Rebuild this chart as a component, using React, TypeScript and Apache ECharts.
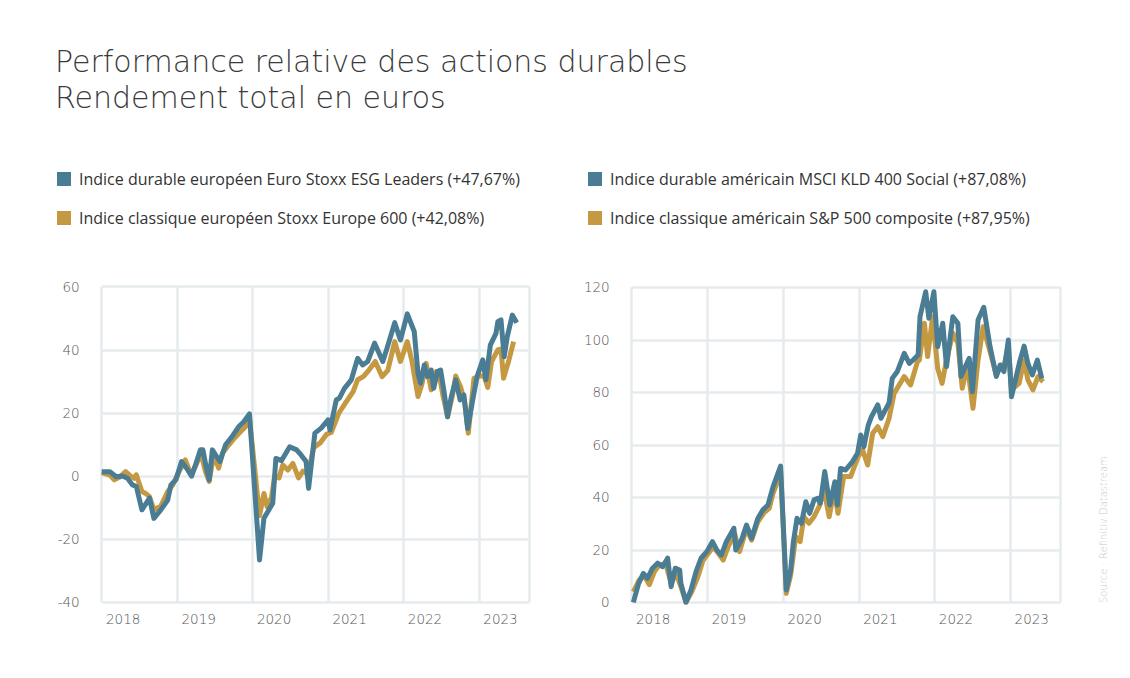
import React, { useEffect, useRef } from "react";
import * as echarts from "echarts";

// x values: months since January 2018
const years = ["2018", "2019", "2020", "2021", "2022", "2023"];

const euroEsgX = [0, 1.3, 2.3, 3.3, 4.1, 4.9, 5.5, 6.4, 7.6, 8.3, 9.4, 10.5, 11, 11.8, 12.7, 13.5, 14.3, 15, 15.7, 16.1, 16.6, 17.1, 17.6, 18.1, 18.8, 19.7, 20.8, 21.8, 22.6, 23.5, 25.1, 25.8, 27.2, 27.7, 28.6, 29.9, 31, 31.7, 32.5, 32.9, 33.9, 34.9, 36, 36.3, 37.3, 37.8, 38.6, 39.7, 40.7, 41.5, 42.3, 43.4, 44.7, 45.3, 46.6, 47.5, 48.6, 49.7, 50.3, 50.7, 51.3, 51.8, 52.4, 52.8, 53.4, 53.9, 54.4, 55.0, 55.6, 56.3, 57.0, 57.6, 58.2, 59.0, 59.7, 60.6, 61.1, 61.8, 62.7, 63, 63.5, 64, 64.5, 65.3, 66.0];
const euroEsgY = [1.4, 1.4, -0.2, 0.0, -0.7, -2.8, -3.3, -10.7, -7.0, -13.4, -10.7, -7.6, -2.8, -1.2, 4.6, 2.5, 0.0, 4.0, 8.3, 8.3, 3.0, -1.2, 8.3, 6.7, 4.6, 9.9, 12.7, 15.7, 17.2, 19.7, -26.6, -13.4, -8.6, 5.6, 4.9, 9.3, 8.3, 6.7, 4.6, -3.9, 13.6, 15.2, 17.8, 14.6, 24.1, 24.7, 27.8, 30.5, 37.3, 35.2, 36.3, 42.1, 36.3, 40.0, 48.6, 43.1, 51.4, 45.8, 32.6, 29.4, 35.2, 31.5, 33.6, 27.8, 33.1, 33.6, 27.3, 18.8, 25.2, 30.5, 24.1, 25.7, 15.1, 24.1, 31.5, 36.8, 30.5, 41.5, 45.2, 48.9, 49.5, 37.8, 44.2, 51.0, 48.6];

const euroStoxxX = [0, 1.3, 2.0, 2.8, 3.8, 4.6, 5.2, 5.5, 6.4, 7.0, 7.6, 8.3, 9.4, 10.5, 11.3, 12.3, 13.3, 14.2, 15.0, 15.8, 16.5, 17.1, 17.8, 18.6, 19.2, 20.0, 21.1, 22.1, 22.9, 23.5, 25.1, 25.8, 26.3, 27.0, 27.5, 28.2, 28.8, 29.6, 30.4, 31.3, 32.0, 32.8, 33.7, 34.8, 35.8, 36.5, 37.7, 38.9, 40.0, 40.7, 41.6, 42.5, 43.5, 44.6, 45.5, 46.6, 47.5, 48.6, 49.3, 50.3, 50.9, 51.6, 52.4, 53.2, 53.7, 54.2, 55.0, 55.8, 56.3, 57.1, 57.7, 58.3, 59.2, 60.1, 60.8, 61.4, 62.0, 63.0, 63.5, 63.9, 64.7, 65.5];
const euroStoxxY = [1.1, 0.3, -1.2, -0.4, 1.4, 0.0, -0.7, 0.4, -4.9, -5.5, -6.5, -10.7, -9.5, -4.9, -2.8, 1.4, 5.1, 0.4, 3.5, 7.2, 1.4, -1.7, 6.7, 2.5, 7.2, 9.3, 12.0, 14.1, 15.7, 18.3, -12.5, -5.5, -9.7, -6.8, 0.0, -0.6, 3.5, 1.9, 4.0, -0.6, 1.6, 0.5, 9.0, 10.6, 13.3, 13.8, 19.9, 23.6, 26.8, 30.5, 31.5, 33.6, 36.3, 31.5, 33.5, 42.6, 36.3, 42.6, 36.8, 25.2, 28.9, 35.7, 27.3, 33.1, 32.0, 26.2, 18.8, 25.7, 31.7, 28.1, 23.6, 13.6, 31.0, 31.7, 31.7, 28.1, 36.3, 40.0, 40.2, 31.0, 36.3, 42.6];

const usKldX = [0.26, 1.1, 1.85, 2.5, 3.3, 4.1, 4.9, 5.7, 6.25, 6.9, 7.6, 7.8, 8.6, 9.4, 10.2, 11.0, 11.9, 12.8, 13.5, 14.2, 15.0, 16.2, 16.5, 17.4, 18.2, 19.0, 20.0, 20.8, 21.6, 22.4, 23.6, 24.5, 25.2, 25.6, 26.2, 26.9, 27.6, 28.2, 28.9, 29.5, 29.9, 30.6, 31.4, 32.2, 32.6, 33.1, 33.9, 35.0, 35.8, 36.3, 36.8, 37.5, 38.0, 39.0, 39.5, 40.8, 41.3, 42.1, 43.2, 44.0, 44.6, 45.4, 45.7, 46.6, 47.1, 47.9, 48.5, 49.3, 49.9, 50.9, 51.7, 52.2, 53.0, 53.5, 54.0, 54.9, 55.8, 56.8, 57.8, 58.4, 59.0, 59.7, 60.2, 61.5, 62.2, 62.8, 63.5, 64.3, 65.0];
const usKldY = [0, 7.2, 11.0, 9.1, 13.0, 14.9, 13.6, 16.8, 5.9, 13.0, 12.3, 7.2, 0, 4.7, 11.7, 16.8, 19.3, 23.1, 19.9, 18.0, 23.1, 28.2, 19.9, 23.7, 29.4, 24.4, 32.0, 35.2, 37.1, 44.0, 51.9, 4.7, 12.3, 22.5, 32.0, 30.1, 38.3, 33.9, 39.0, 39.6, 37.7, 49.8, 37.1, 45.9, 37.1, 51.0, 50.4, 53.6, 56.8, 63.7, 59.3, 67.5, 70.7, 75.2, 70.1, 76.0, 85.3, 87.9, 94.8, 91.0, 92.3, 94.2, 108.8, 118.3, 108.2, 118.3, 97.4, 106.3, 89.8, 108.8, 106.3, 86.0, 90.4, 92.9, 80.2, 107.5, 112.4, 97.4, 86.0, 90.4, 87.9, 99.9, 78.3, 91.7, 97.6, 91.0, 86.6, 92.3, 85.3];

const usSpX = [0.26, 1.2, 2.0, 2.8, 3.6, 4.4, 5.4, 6.25, 7.0, 7.8, 8.6, 9.5, 10.5, 11.3, 12.1, 12.9, 13.7, 14.5, 15.3, 16.3, 17.1, 18.2, 19.0, 20.0, 21.0, 21.8, 22.4, 22.8, 23.6, 24.5, 25.2, 26.0, 26.7, 27.3, 28.1, 28.9, 29.7, 30.5, 31.3, 32.1, 32.7, 33.6, 34.7, 35.9, 36.6, 37.4, 38.2, 39.0, 39.8, 40.8, 41.6, 43.2, 44.2, 45.3, 45.6, 46.4, 46.9, 47.7, 48.5, 49.2, 49.9, 50.9, 51.7, 52.4, 53.0, 53.5, 54.1, 54.9, 55.7, 56.8, 57.8, 58.4, 59.1, 59.7, 60.2, 61.4, 62.2, 62.8, 63.6, 64.4, 65.2];
const usSpY = [4.0, 8.5, 10.0, 6.7, 11.7, 14.2, 14.6, 7.2, 11.3, 5.9, 0, 3.9, 9.8, 15.9, 18.5, 21.1, 18.8, 16.1, 21.2, 26.3, 19.3, 28.1, 23.7, 30.7, 34.2, 35.8, 41.5, 44.0, 50.4, 3.4, 10.4, 25.0, 23.1, 32.6, 30.1, 32.6, 36.4, 42.8, 32.6, 42.8, 33.9, 47.9, 47.9, 55.5, 58.0, 52.3, 64.4, 66.9, 63.1, 70.1, 79.6, 86.0, 82.8, 91.7, 92.3, 106.3, 93.6, 108.8, 89.1, 83.4, 92.3, 102.5, 98.7, 81.5, 88.5, 84.7, 73.9, 92.3, 105.0, 95.5, 86.6, 89.5, 91.0, 97.4, 80.9, 83.4, 92.3, 84.7, 80.9, 86.0, 84.0];

const seriesNames = [
  "Indice durable européen Euro Stoxx ESG Leaders (+47,67%)",
  "Indice classique européen Stoxx Europe 600 (+42,08%)",
  "Indice durable américain MSCI KLD 400 Social (+87,08%)",
  "Indice classique américain S&P 500 composite (+87,95%)",
];

const titleLines = ["Performance relative des actions durables", "Rendement total en euros"];
const sourceText = "Source : Refinitiv Datastream";

const BLUE = "#4a7d94";
const GOLD = "#c59842";
const GRID = "#e6ebee";
const LABEL = "#555555";
const TICK_FONT = "DejaVu Sans";

const zip = (xs: number[], ys: number[]) => xs.map((x, i) => [x, ys[i]]);

export default function App() {
  const ref = useRef<HTMLDivElement>(null);
  useEffect(() => {
    if (!ref.current) return;
    const chart = echarts.init(ref.current, null, { renderer: "svg" });
    const xAxisCommon = (gridIndex: number) => ({
      type: "value",
      gridIndex,
      min: 0,
      max: 68,
      interval: 12,
      axisLine: { show: false },
      axisTick: { show: false },
      splitLine: { show: true, lineStyle: { color: GRID, width: 2.5 } },
      axisLabel: {
        formatter: (v: number) => (v % 12 === 0 ? years[v / 12] ?? "" : ""),
        padding: [0, 0, 0, 43],
        color: LABEL,
        fontFamily: TICK_FONT,
        fontWeight: 200,
        fontSize: 13.5,
        margin: 10,
        showMaxLabel: false,
      },
    });
    const yAxisCommon = (gridIndex: number, min: number, max: number) => ({
      type: "value",
      gridIndex,
      min,
      max,
      interval: 20,
      axisLine: { show: false },
      axisTick: { show: false },
      splitLine: { show: true, lineStyle: { color: GRID, width: 2.5 } },
      axisLabel: { color: LABEL, fontFamily: TICK_FONT, fontWeight: 200, fontSize: 13.5, margin: 22 },
    });
    const lineSeries = (name: string, idx: number, data: number[][], color: string, z: number) => ({
      name,
      type: "line",
      xAxisIndex: idx,
      yAxisIndex: idx,
      data,
      showSymbol: false,
      symbol: "none",
      z,
      lineStyle: { color, width: 5, join: "round" },
      itemStyle: { color },
    });
    const legendCommon = {
      orient: "vertical",
      itemWidth: 14,
      itemHeight: 14,
      itemGap: 23,
      padding: 0,
      icon: "rect",
      selectedMode: false,
      textStyle: { color: "#333", fontFamily: "Open Sans", fontSize: 16, padding: [0, 0, 0, 3] },
    };
    chart.setOption({
      animation: false,
      backgroundColor: "#ffffff",
      grid: [
        { left: 101.7, right: 600.7, top: 286.7, bottom: 75.7 },
        { left: 631.7, right: 69.3, top: 287.3, bottom: 75.7 },
      ],
      xAxis: [xAxisCommon(0), xAxisCommon(1)],
      yAxis: [yAxisCommon(0, -40, 60), yAxisCommon(1, 0, 120)],
      legend: [
        { ...legendCommon, left: 57, top: 171, data: [seriesNames[0], seriesNames[1]] },
        { ...legendCommon, left: 588, top: 171, data: [seriesNames[2], seriesNames[3]] },
      ],
      series: [
        lineSeries(seriesNames[1], 0, zip(euroStoxxX, euroStoxxY), GOLD, 2),
        lineSeries(seriesNames[0], 0, zip(euroEsgX, euroEsgY), BLUE, 3),
        lineSeries(seriesNames[3], 1, zip(usSpX, usSpY), GOLD, 2),
        lineSeries(seriesNames[2], 1, zip(usKldX, usKldY), BLUE, 3),
      ],
      graphic: [
        {
          type: "text",
          left: 55,
          top: 43,
          style: {
            text: titleLines.join("\n"),
            fill: "#3a3a3a",
            font: "200 30px 'DejaVu Sans'",
            lineHeight: 36,
          },
        },
        {
          type: "text",
          x: 1103,
          y: 603,
          rotation: Math.PI / 2,
          style: {
            text: sourceText,
            fill: "#c8c8c8",
            font: "200 10px 'DejaVu Sans'",
            align: "left",
            verticalAlign: "middle",
          },
        },
      ],
    });
    return () => chart.dispose();
  }, []);
  return (
    <div
      ref={ref}
      style={{ position: "fixed", left: 0, top: 0, width: 1130, height: 678, background: "#fff" }}
    />
  );
}
